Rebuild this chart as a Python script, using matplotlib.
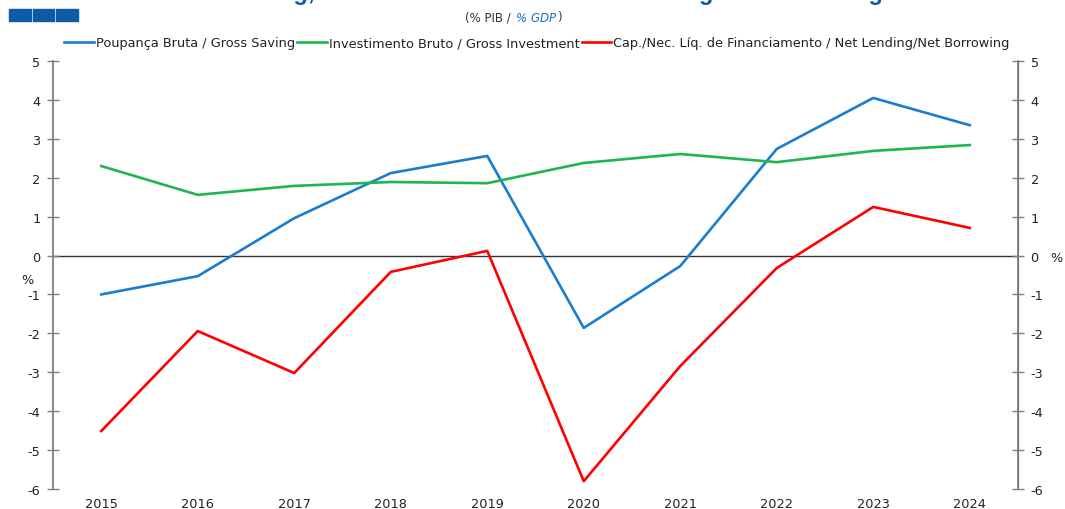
import numpy as np
import matplotlib
matplotlib.use('Agg')
import matplotlib.pyplot as plt
from matplotlib.patches import Rectangle

plt.rcParams['font.family'] = ['DejaVu Sans']
plt.rcParams['font.size'] = 9.3
plt.rcParams['axes.unicode_minus'] = False

years = ['2015', '2016', '2017', '2018', '2019', '2020', '2021', '2022', '2023', '2024']
gross_saving = [-1.00, -0.53, 0.96, 2.12, 2.56, -1.86, -0.27, 2.74, 4.05, 3.35]
gross_investment = [2.30, 1.56, 1.79, 1.89, 1.86, 2.38, 2.61, 2.40, 2.69, 2.84]
net_lending = [-4.51, -1.94, -3.02, -0.42, 0.12, -5.80, -2.84, -0.32, 1.25, 0.71]

series_labels = ['Poupança Bruta / Gross Saving',
                 'Investimento Bruto / Gross Investment',
                 'Cap./Nec. Líq. de Financiamento / Net Lending/Net Borrowing']
series_colors = ['#1b7cd0', '#1fb552', '#ff0000']

W, H = 1065, 510
fig = plt.figure(figsize=(W / 100, H / 100), dpi=100)
ax = fig.add_axes([53 / W, 1 - 490 / H, 965 / W, 428 / H])

x = np.arange(len(years)) + 0.5
for vals, lab, col in zip([gross_saving, gross_investment, net_lending], series_labels, series_colors):
    ax.plot(x, vals, color=col, lw=1.9, label=lab)

ax.axhline(0, color='#333333', lw=1.0, zorder=0)

ax.set_xlim(0, len(years))
ax.set_ylim(-6, 5)
ax.set_yticks(range(-6, 6))
ax.set_xticks(x)
ax.set_xticklabels(years)
ax.tick_params(axis='x', length=0, pad=6, labelsize=9.3, colors='#222222')
ax.tick_params(axis='y', direction='inout', length=8, width=1.0, color='#7f7f7f',
               labelsize=9.3, labelcolor='#222222', pad=5)

for s in ['top', 'bottom']:
    ax.spines[s].set_visible(False)
ax.spines['left'].set_color('#7f7f7f')
ax.spines['left'].set_linewidth(1.3)

ax2 = ax.twinx()
ax2.set_ylim(-6, 5)
ax2.set_yticks(range(-6, 6))
ax2.tick_params(axis='y', direction='inout', length=8, width=1.0, color='#7f7f7f',
                labelsize=9.3, labelcolor='#222222', pad=5)
for s in ['top', 'bottom', 'left']:
    ax2.spines[s].set_visible(False)
ax2.spines['right'].set_color('#7f7f7f')
ax2.spines['right'].set_linewidth(1.3)

# unit labels on both sides
fig.text(27 / W, 1 - 280 / H, '%', ha='center', va='center', fontsize=9.3, color='#222222')
fig.text(1056 / W, 1 - 258 / H, '%', ha='center', va='center', fontsize=9.3, color='#222222')

leg = ax.legend(loc='center', bbox_to_anchor=(537 / W, 1 - 44 / H), bbox_transform=fig.transFigure,
                ncol=3, frameon=False, fontsize=9.3, handlelength=2.3, handletextpad=0.15,
                columnspacing=0.15, borderpad=0)
for t in leg.get_texts():
    t.set_color('#222222')

# header: logo squares, clipped title, unit subtitle
for i in range(3):
    fig.patches.append(Rectangle(((9 + i * 23.5) / W, 1 - 22 / H), 21.5 / W, 12 / H,
                                 transform=fig.transFigure, color='#0d5aa7', figure=fig))
fig.text(519 / W, 1.0, 'Gross Saving, Gross Investment and Net Lending/Net Borrowing',
         family='Liberation Sans', ha='center', va='baseline', fontsize=17,
         fontweight='bold', color='#0d5aa7')

renderer = fig.canvas.get_renderer()
parts = [('(% PIB / ', '#333333', 'normal'), ('% GDP', '#1b6fc0', 'italic'), (')', '#333333', 'normal')]
xpos = 465
for txt, col, sty in parts:
    t = fig.text(xpos / W, 1 - 18 / H, txt, ha='left', va='center', fontsize=8.5,
                 color=col, style=sty)
    xpos += t.get_window_extent(renderer).width + 1

fig.savefig('out.png', dpi=100)
